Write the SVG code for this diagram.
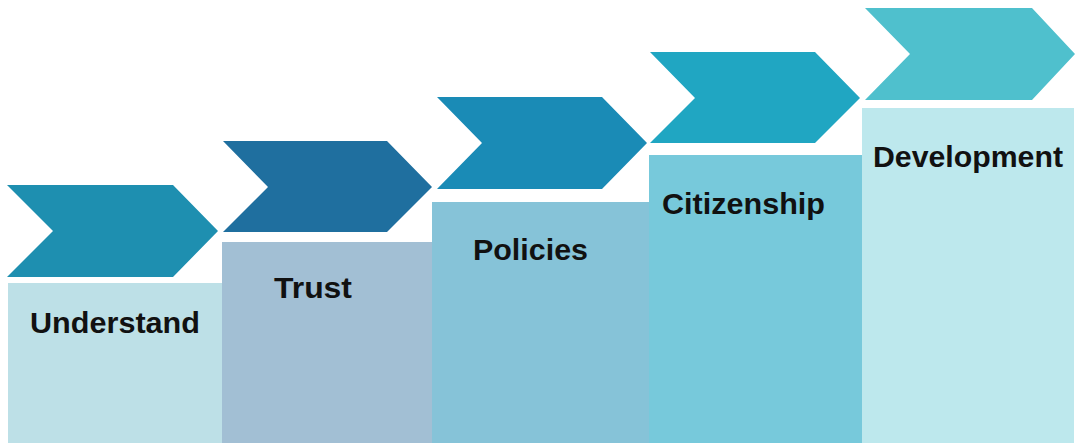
<svg xmlns="http://www.w3.org/2000/svg" width="1078" height="445" viewBox="0 0 1078 445">
<style>
.lbl{font-family:"Liberation Sans",Arial,sans-serif;font-weight:bold;font-size:30px;fill:#111111}
</style>
<rect width="1078" height="445" fill="#ffffff"/>
<g id="step1">
<rect x="8" y="283" width="214" height="160" fill="#bde0e7"/>
<polygon points="7,185 173,185 218,231 173,277 7,277 53,231" fill="#1e8fb0"/>
<text class="lbl" x="30" y="333" textLength="170" lengthAdjust="spacingAndGlyphs">Understand</text>
</g>
<g id="step2">
<rect x="222" y="242" width="210" height="201" fill="#a2bfd4"/>
<polygon points="223,141 387,141 432,187 387,232 223,232 268,187" fill="#1f6f9f"/>
<text class="lbl" x="274" y="298" textLength="78" lengthAdjust="spacingAndGlyphs">Trust</text>
</g>
<g id="step3">
<rect x="432" y="202" width="217" height="241" fill="#86c3d8"/>
<polygon points="437,97 602,97 647,143 602,189 437,189 482,143" fill="#1a8bb6"/>
<text class="lbl" x="473" y="260" textLength="115" lengthAdjust="spacingAndGlyphs">Policies</text>
</g>
<g id="step4">
<rect x="649" y="155" width="213" height="288" fill="#77c9db"/>
<polygon points="650,52 815,52 860,98 815,143 650,143 695,98" fill="#20a6c2"/>
<text class="lbl" x="662" y="214" textLength="163" lengthAdjust="spacingAndGlyphs">Citizenship</text>
</g>
<g id="step5">
<rect x="862" y="108" width="212" height="335" fill="#bde8ed"/>
<polygon points="865,8 1032,8 1075,54 1032,100 865,100 910,54" fill="#4fc0cd"/>
<text class="lbl" x="873" y="167" textLength="190" lengthAdjust="spacingAndGlyphs">Development</text>
</g>
<g id="connectors"/>
</svg>
